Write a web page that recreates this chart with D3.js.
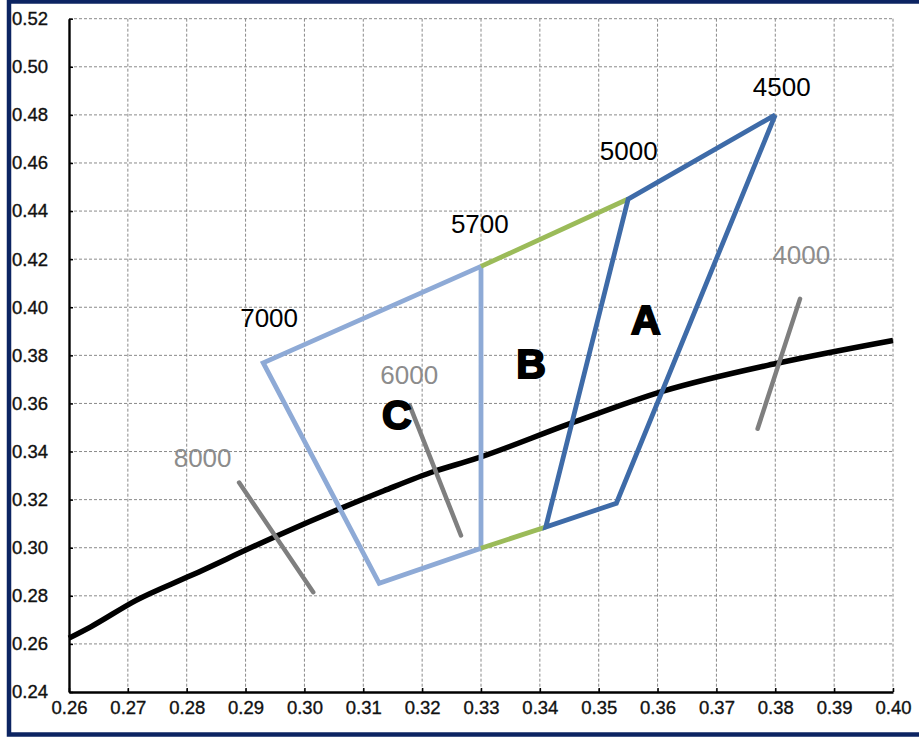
<!DOCTYPE html>
<html><head><meta charset="utf-8">
<script src="https://cdn.jsdelivr.net/npm/d3@7"></script>
<style>body{margin:0;background:#fff}svg{display:block}</style>
</head><body>
<svg id="c" width="919" height="740"></svg>
<script>
// Planckian locus (black curve)
const locusX = [0.26, 0.2637, 0.2714, 0.2807, 0.2952, 0.3064, 0.3135, 0.3221, 0.3287, 0.3451, 0.3611, 0.3805, 0.40];
const locusY = [0.2624, 0.2671, 0.2781, 0.2884, 0.3048, 0.3166, 0.3237, 0.3318, 0.3367, 0.3516, 0.3652, 0.3768, 0.3862];
// Quadrangle A (dark blue)
const quadAX = [0.38, 0.355, 0.341, 0.353, 0.38];
const quadAY = [0.48, 0.445, 0.3086, 0.3185, 0.48];
// Region C outline + B divider (light blue)
const quadCX = [0.33, 0.293, 0.3127, 0.33, 0.33];
const quadCY = [0.417, 0.3769, 0.2852, 0.2998, 0.417];
// Green edges of B
const greenTopX = [0.33, 0.355], greenTopY = [0.417, 0.445];
const greenBotX = [0.33, 0.341], greenBotY = [0.2998, 0.3086];
// Isotherm lines (gray)
const isoNames = ["8000", "6000", "4000"];
const isoX1 = [0.2889, 0.3179, 0.3842], isoY1 = [0.3271, 0.3591, 0.4035];
const isoX2 = [0.3015, 0.3266, 0.3770], isoY2 = [0.2815, 0.3051, 0.3495];
// Labels
const cctLabels = ["4500", "5000", "5700", "7000"];
const cctLabelX = [0.3811, 0.3551, 0.3298, 0.2940];
const cctLabelY = [0.4877, 0.4612, 0.4309, 0.3919];
const isoLabelX = [0.2827, 0.3178, 0.3844];
const isoLabelY = [0.3334, 0.3682, 0.4180];
const regionNames = ["A", "B", "C"];
const regionX = [0.3580, 0.3385, 0.3157];
const regionY = [0.3890, 0.3707, 0.3495];
// Ticks
const xTicks = [0.26,0.27,0.28,0.29,0.30,0.31,0.32,0.33,0.34,0.35,0.36,0.37,0.38,0.39,0.40];
const yTicks = [0.24,0.26,0.28,0.30,0.32,0.34,0.36,0.38,0.40,0.42,0.44,0.46,0.48,0.50,0.52];

const svg = d3.select("#c");
const x = d3.scaleLinear().domain([0.26, 0.40]).range([69, 893]);
const y = d3.scaleLinear().domain([0.24, 0.52]).range([692, 18.7]);

// frame
svg.append("rect").attr("x", 9).attr("y", 1.5).attr("width", 930).attr("height", 733)
  .attr("fill", "none").attr("stroke", "#0c2462").attr("stroke-width", 4.5);

// grid
const g = svg.append("g");
g.selectAll(".vg").data(xTicks.slice(1)).join("line")
  .attr("x1", d => x(d)).attr("x2", d => x(d)).attr("y1", y(0.52)).attr("y2", y(0.24))
  .attr("stroke", "#8a8a8a").attr("stroke-width", 1).attr("stroke-dasharray", "3,2");
g.selectAll(".hg").data(yTicks.slice(1)).join("line")
  .attr("x1", x(0.26)).attr("x2", x(0.40)).attr("y1", d => y(d)).attr("y2", d => y(d))
  .attr("stroke", "#8a8a8a").attr("stroke-width", 1).attr("stroke-dasharray", "3,2");

// axes
const xAxis = d3.axisBottom(x).tickValues(xTicks).tickFormat(d3.format(".2f")).tickSizeInner(-4).tickSizeOuter(0).tickPadding(9);
const yAxis = d3.axisLeft(y).tickValues(yTicks).tickFormat(d3.format(".2f")).tickSizeInner(-4).tickSizeOuter(0).tickPadding(23);
const gx = svg.append("g").attr("transform", `translate(0,${y(0.24)})`).call(xAxis);
const gy = svg.append("g").attr("transform", `translate(${x(0.26)},0)`).call(yAxis);
[gx, gy].forEach(a => {
  a.select(".domain").attr("stroke", "#000").attr("stroke-width", 2.4);
  a.selectAll(".tick line").attr("stroke", "#000").attr("stroke-width", 1.5);
  a.selectAll("text").attr("font-family", "Liberation Sans, Arial, sans-serif")
    .attr("font-size", 18.5).attr("fill", "#111").attr("stroke", "#111").attr("stroke-width", 0.35);
});
gy.selectAll("text").attr("text-anchor", "end").attr("dx", 2);

const line = d3.line().x(d => x(d[0])).y(d => y(d[1]));
const zip = (a, b) => a.map((v, i) => [v, b[i]]);

// locus
svg.append("path").datum(zip(locusX, locusY))
  .attr("d", d3.line().x(d => x(d[0])).y(d => y(d[1])).curve(d3.curveMonotoneX))
  .attr("fill", "none").attr("stroke", "#000").attr("stroke-width", 5.5);

// isotherms
isoNames.forEach((n, i) => {
  svg.append("path").datum([[isoX1[i], isoY1[i]], [isoX2[i], isoY2[i]]])
    .attr("d", line).attr("stroke", "#7f7f7f").attr("stroke-width", 4.5).attr("fill", "none").attr("stroke-linecap", "round");
});

// light blue C + divider
svg.append("path").datum(zip(quadCX, quadCY)).attr("d", line)
  .attr("fill", "none").attr("stroke", "#8eaad6").attr("stroke-width", 4.8).attr("stroke-linejoin", "miter");
// green edges
[[greenTopX, greenTopY], [greenBotX, greenBotY]].forEach(([gxs, gys]) => {
  svg.append("path").datum(zip(gxs, gys)).attr("d", line)
    .attr("fill", "none").attr("stroke", "#9bbb59").attr("stroke-width", 4.8);
});
// dark blue A
svg.append("path").datum(zip(quadAX, quadAY)).attr("d", line)
  .attr("fill", "none").attr("stroke", "#3e6ba8").attr("stroke-width", 4.8).attr("stroke-linejoin", "miter");

// labels
const lf = "Liberation Sans, Arial, sans-serif";
cctLabels.forEach((t, i) => {
  svg.append("text").attr("x", x(cctLabelX[i])).attr("y", y(cctLabelY[i]))
    .attr("text-anchor", "middle").attr("font-family", lf).attr("font-size", 26).attr("fill", "#000").text(t);
});
isoNames.forEach((t, i) => {
  svg.append("text").attr("x", x(isoLabelX[i])).attr("y", y(isoLabelY[i]))
    .attr("text-anchor", "middle").attr("font-family", lf).attr("font-size", 26).attr("fill", "#8c8c8c").text(t);
});
regionNames.forEach((t, i) => {
  svg.append("text").attr("x", x(regionX[i])).attr("y", y(regionY[i]))
    .attr("text-anchor", "middle").attr("font-family", lf).attr("font-weight", "bold")
    .attr("font-size", 41).attr("fill", "#000").attr("stroke", "#000").attr("stroke-width", 2).text(t);
});
</script>
</body></html>
